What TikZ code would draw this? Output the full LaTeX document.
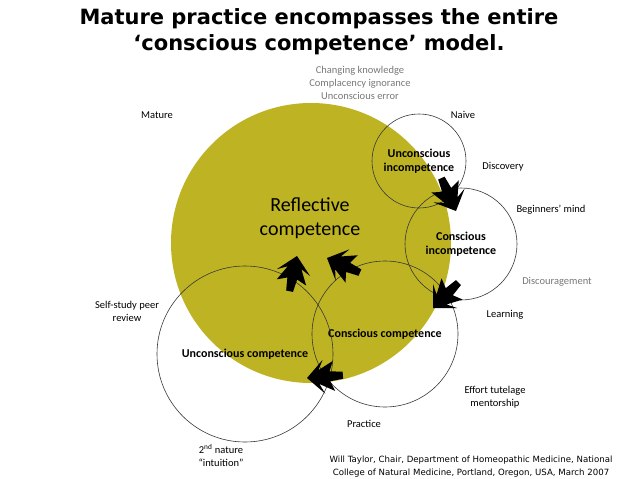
\documentclass[tikz,border=0pt]{standalone}
\usepackage{fontspec}
\setmainfont{Carlito}
\newfontfamily\titlefont{DejaVu Sans}
\newfontfamily\creditfont{DejaVu Sans}
\usetikzlibrary{calc}
\definecolor{refyellow}{RGB}{190,179,35}
\definecolor{greytext}{RGB}{120,120,120}
\definecolor{ringline}{RGB}{55,55,55}
% double-chevron arrow: #1 = tip coordinate, #2 = tail coordinate
\newcommand\chevronarrow[2]{%
  \fill[black]
    (#1)
    -- ($(#1)!17pt!(#2)!17pt!90:(#2)$)
    -- ($(#1)!12pt!(#2)!7pt!90:(#2)$)
    -- ($(#1)!27pt!(#2)!15pt!90:(#2)$)
    -- ($(#1)!23pt!(#2)!5pt!90:(#2)$)
    -- ($(#1)!36pt!(#2)!3.5pt!90:(#2)$)
    -- ($(#1)!36pt!(#2)!3.5pt!-90:(#2)$)
    -- ($(#1)!23pt!(#2)!5pt!-90:(#2)$)
    -- ($(#1)!27pt!(#2)!15pt!-90:(#2)$)
    -- ($(#1)!12pt!(#2)!7pt!-90:(#2)$)
    -- ($(#1)!17pt!(#2)!17pt!-90:(#2)$)
    -- cycle;}
\begin{document}
\begin{tikzpicture}[x=1pt,y=-1pt,
  lbl/.style={font=\fontsize{10.5}{13}\selectfont, align=center, inner sep=0pt},
  glbl/.style={lbl, text=greytext},
  stage/.style={circle, draw=ringline, line width=0.6pt, align=center, inner sep=0pt,
    font=\bfseries\fontsize{12}{14.5}\selectfont}
]
\useasboundingbox (0,0) rectangle (638,479);

% title
\node[font=\titlefont\bfseries\fontsize{21}{26}\selectfont, align=center, inner sep=0pt] (title) at (319,31.5)
  {Mature practice encompasses the entire\\‘conscious competence’ model.};

% big reflective circle
\node[circle, fill=refyellow, minimum size=280pt, inner sep=0pt] (refl) at (311,243) {};
\node[font=\fontsize{20}{24}\selectfont, align=center, inner sep=0pt] (refltext) at (310,218) {Reflective\\competence};

% stage circles
\node[stage, minimum size=94pt] (ui) at (419,161) {Unconscious\\incompetence};
\node[stage, minimum size=112pt] (ci) at (461,244) {Conscious\\incompetence};
\node[stage, minimum size=146pt] (cc) at (385,334) {Conscious competence};
\node[stage, minimum size=176pt] (uc) at (245,354) {Unconscious competence};

% arrows (tip, tail)
\coordinate (a1s) at (440,175); \coordinate (a1e) at (456,211);
\coordinate (a2s) at (460,281); \coordinate (a2e) at (433,308);
\coordinate (a3s) at (346,375); \coordinate (a3e) at (307,378);
\coordinate (a4s) at (363,274); \coordinate (a4e) at (327,258);
\coordinate (a5s) at (289,294); \coordinate (a5e) at (297,256);
\chevronarrow{a1e}{a1s}
\chevronarrow{a2e}{a2s}
\chevronarrow{a3e}{a3s}
\chevronarrow{a4e}{a4s}
\chevronarrow{a5e}{a5s}

% side labels
\node[glbl] (chg) at (360,83) {Changing knowledge\\Complacency ignorance\\Unconscious error};
\node[lbl] (mature) at (157,115) {Mature};
\node[lbl] (naive) at (463,115) {Naive};
\node[lbl] (disc) at (503,167) {Discovery};
\node[lbl] (begin) at (551,210) {Beginners’ mind};
\node[glbl] (discour) at (557,282) {Discouragement};
\node[lbl] (learn) at (505,315) {Learning};
\node[lbl] (self) at (127,311) {Self-study peer\\review};
\node[lbl] (effort) at (495,397) {Effort tutelage\\mentorship};
\node[lbl] (prac) at (364,424) {Practice};
\node[lbl] (nature) at (221,455) {2\textsuperscript{nd} nature\\“intuition”};

% credit
\node[font=\creditfont\fontsize{8.6}{13}\selectfont, align=center, inner sep=0pt] (credit) at (471,467)
  {Will Taylor, Chair, Department of Homeopathic Medicine, National\\College of Natural Medicine, Portland, Oregon, USA, March 2007};
\end{tikzpicture}
\end{document}
